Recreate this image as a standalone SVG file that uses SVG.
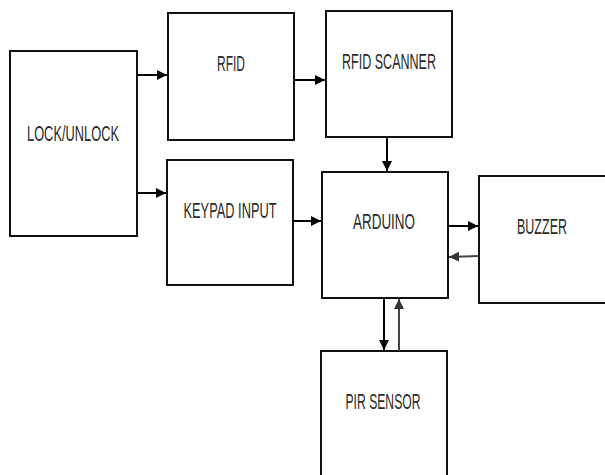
<svg xmlns="http://www.w3.org/2000/svg" width="605" height="475" viewBox="0 0 605 475">
<defs>
<marker id="ah" viewBox="0 0 10 10" refX="10" refY="5" markerWidth="10" markerHeight="10" markerUnits="userSpaceOnUse" orient="auto">
<path d="M0,0 L10,5 L0,10 z" fill="#000"/>
</marker>
<marker id="ahg" viewBox="0 0 10 10" refX="10" refY="5" markerWidth="10" markerHeight="10" markerUnits="userSpaceOnUse" orient="auto">
<path d="M0,0 L10,5 L0,10 z" fill="#333"/>
</marker>
</defs>
<style>
.box{fill:#fff;stroke:#111;stroke-width:2}
.lbl{font-family:"Liberation Sans",Arial,sans-serif;font-size:22px;fill:#2a2a2a;text-anchor:middle}
.c{stroke:#000;stroke-width:2;fill:none}
.cg{stroke:#444;stroke-width:2;fill:none}
</style>
<rect width="605" height="475" fill="#fff"/>
<g id="lock"><rect class="box" x="10" y="51" width="127" height="185"/><text class="lbl" x="73" y="141" textLength="92" lengthAdjust="spacingAndGlyphs">LOCK/UNLOCK</text></g>
<g id="rfid"><rect class="box" x="168" y="13" width="126" height="127"/><text class="lbl" x="231" y="71" textLength="28" lengthAdjust="spacingAndGlyphs">RFID</text></g>
<g id="keypad"><rect class="box" x="167" y="160" width="126" height="125"/><text class="lbl" x="230" y="218" textLength="93" lengthAdjust="spacingAndGlyphs">KEYPAD INPUT</text></g>
<g id="scanner"><rect class="box" x="326" y="11" width="126" height="126"/><text class="lbl" x="389" y="69" textLength="94" lengthAdjust="spacingAndGlyphs">RFID SCANNER</text></g>
<g id="arduino"><rect class="box" x="322" y="172" width="126" height="126"/><text class="lbl" x="384" y="229" textLength="62" lengthAdjust="spacingAndGlyphs">ARDUINO</text></g>
<g id="buzzer"><rect class="box" x="479" y="176" width="130" height="127"/><text class="lbl" x="542" y="234" textLength="50" lengthAdjust="spacingAndGlyphs">BUZZER</text></g>
<g id="pir"><rect class="box" x="321" y="351" width="126" height="130"/><text class="lbl" x="383" y="409" textLength="75" lengthAdjust="spacingAndGlyphs">PIR SENSOR</text></g>
<g id="connectors">
<line class="c" x1="137" y1="75" x2="167" y2="75" marker-end="url(#ah)"/>
<line class="c" x1="137" y1="193" x2="166" y2="193" marker-end="url(#ah)"/>
<line class="c" x1="294" y1="80" x2="325" y2="80" marker-end="url(#ah)"/>
<line class="c" x1="293" y1="221" x2="321" y2="221" marker-end="url(#ah)"/>
<line class="c" x1="387" y1="137" x2="387" y2="171" marker-end="url(#ah)"/>
<line class="c" x1="448" y1="226" x2="478" y2="226" marker-end="url(#ah)"/>
<line class="cg" x1="479" y1="256" x2="449" y2="257" marker-end="url(#ahg)"/>
<line class="c" x1="384" y1="298" x2="384" y2="350" marker-end="url(#ah)"/>
<line class="cg" x1="399" y1="351" x2="399" y2="299" marker-end="url(#ahg)"/>
</g>
</svg>
